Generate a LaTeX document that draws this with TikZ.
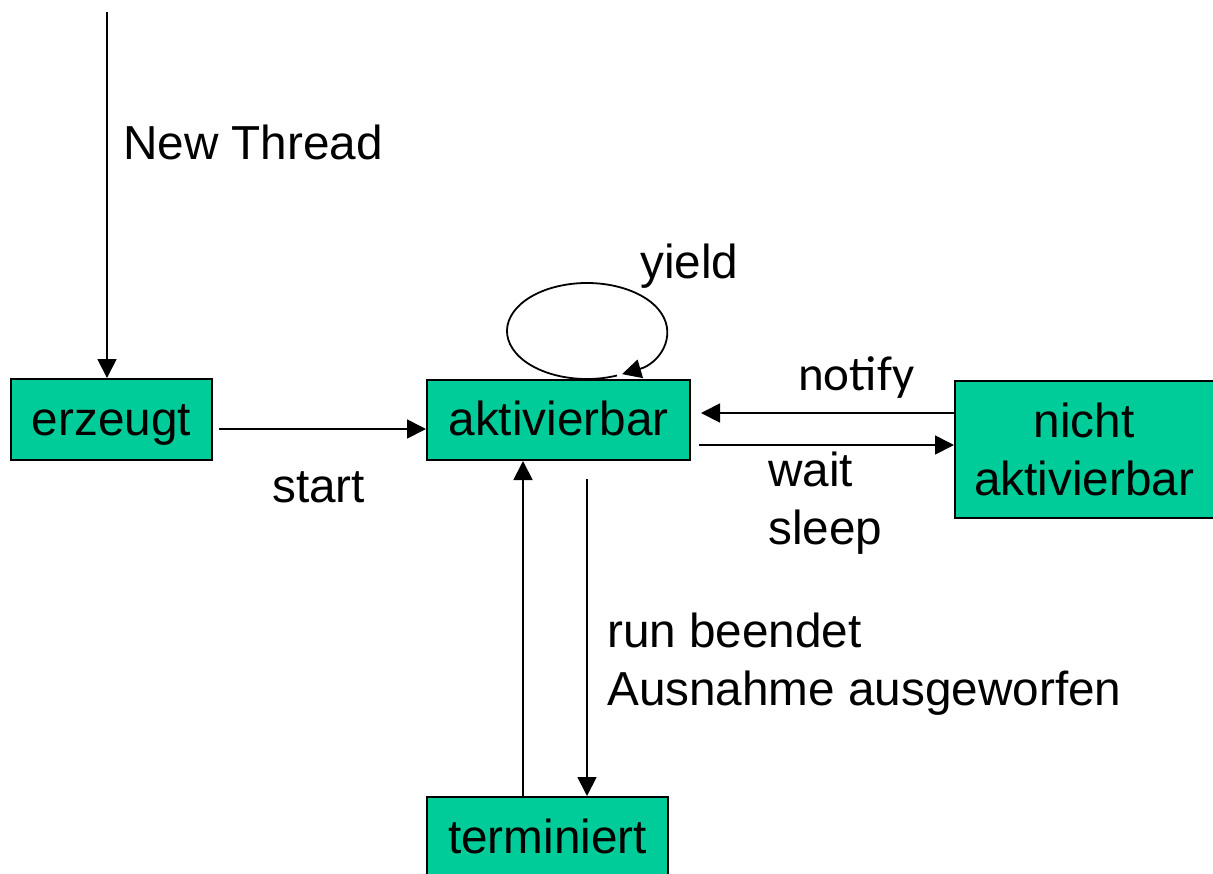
\documentclass[tikz,border=0pt]{standalone}
\usepackage{fontspec}
\setmainfont{Liberation Sans}
\newfontfamily\notifyfont{Carlito}
\usetikzlibrary{arrows.meta,calc}
\definecolor{boxgreen}{RGB}{0,204,153}
\begin{document}
\begin{tikzpicture}[x=1pt,y=-1pt,
  every node/.style={font=\fontsize{47.7pt}{57.5pt}\selectfont},
  statebox/.style={draw=black,line width=2pt,fill=boxgreen,inner sep=0pt,
    text height=34.3pt,text depth=2.4pt},
  arr/.style={line width=1.8pt,-{Triangle[length=19pt,width=19pt]}},
  lbl/.style={anchor=base west,inner sep=0pt}]
\useasboundingbox (0,0) rectangle (1213,873);
\node[statebox,minimum width=201pt,minimum height=81pt] (erz) at (111.5,419.5) {erzeugt};
\node[statebox,minimum width=263pt,minimum height=80pt] (akt) at (558.5,420) {aktivierbar};
\node[statebox,minimum width=258.5pt,minimum height=137pt,align=center,text height=,text depth=] (nic) at (1084.25,449.5) {nicht\\aktivierbar};
\node[statebox,minimum width=241pt,minimum height=82pt] (ter) at (547.5,838) {terminiert};
% New Thread
\coordinate (nt) at (107,12);
\draw[arr] (nt) -- (nt |- erz.north);
\node[lbl] (lnew) at (123,159) {New Thread};
% start
\draw[arr] ($(erz.east)+(6,9.5)$) coordinate (s1) -- (s1 -| akt.west);
\node[lbl] (lstart) at (272,502) {start};
% yield loop
\coordinate (yc) at ($(akt.north)+(28.5,-48)$);
\draw[arr] ($(yc)+(68:80 and 48)$) arc[start angle=68,end angle=424,x radius=80,y radius=48];
\node[lbl] (lyield) at (640,278) {yield};
% notify
\draw[arr] ($(nic.west)+(0,-36.5)$) coordinate (n1) -- ($(n1 -| akt.east)+(10,0)$);
\node[lbl,font=\fontsize{49pt}{57.5pt}\notifyfont] (lnotify) at (798,390) {notify};
% wait / sleep
\draw[arr] ($(akt.east)+(8,25)$) coordinate (w1) -- (w1 -| nic.west);
\node[lbl,align=left] (lwait) at (768,544) {wait\\sleep};
% run beendet
\draw[arr] ($(akt.south)+(28.5,18)$) coordinate (d1) -- (d1 |- ter.north);
\node[lbl,align=left] (lrun) at (607,705) {run beendet\\Ausnahme ausgeworfen};
% back up
\draw[arr] ($(ter.north)+(-24.5,0)$) coordinate (u1) -- (u1 |- akt.south);
\end{tikzpicture}
\end{document}
